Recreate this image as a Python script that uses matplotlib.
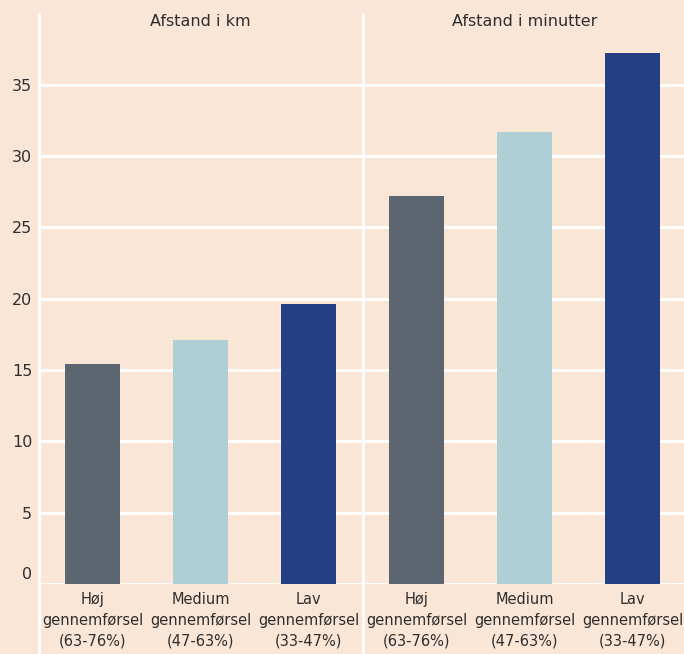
import matplotlib
matplotlib.use("Agg")
import matplotlib.pyplot as plt
from matplotlib import transforms
from matplotlib.lines import Line2D

panels = ["Afstand i km", "Afstand i minutter"]
categories = ["Høj\ngennemførsel\n(63-76%)", "Medium\ngennemførsel\n(47-63%)", "Lav\ngennemførsel\n(33-47%)"]
km_values = [15.4, 17.1, 19.6]
minutes_values = [27.2, 31.7, 37.2]
yticks = [0, 5, 10, 15, 20, 25, 30, 35]

bg = "#fae6d7"
bar_colors = ["#5b6670", "#aecfd6", "#253f85"]
text_color = "#2e2e2e"
plt.rcParams["font.family"] = ["Liberation Sans Narrow", "DejaVu Sans"]

W, H = 684, 654
fig = plt.figure(figsize=(W / 100, H / 100), dpi=100, facecolor=bg)

left_px, mid_px, right_px = 38.5, 362.5, 686.5
bottom_px, top_px = 584, 42
b = (H - bottom_px) / H
h = (bottom_px - top_px) / H

axes = []
for i, (title, vals) in enumerate(zip(panels, [km_values, minutes_values])):
    x0 = [left_px, mid_px][i]
    ax = fig.add_axes([x0 / W, b, (mid_px - left_px) / W, h])
    ax.set_facecolor(bg)
    ax.set_xlim(-0.5, 2.5)
    ax.set_ylim(0, 38)
    ax.set_yticks(yticks)
    for y in yticks:
        ax.axhline(y, color="white", lw=2, zorder=0)
    ax.bar(range(3), vals, width=0.51, color=bar_colors, zorder=2)
    ax.set_xticks(range(3))
    ax.set_xticklabels(categories, fontsize=10.5, color=text_color, linespacing=1.45)
    ax.tick_params(axis="x", length=0, pad=6)
    for s in ax.spines.values():
        s.set_visible(False)
    # panel title, placed at a fixed height in the figure
    ax.text(0.5, (H - 22) / H, title,
            transform=transforms.blended_transform_factory(ax.transAxes, fig.transFigure),
            ha="center", va="center", fontsize=11.5, color=text_color)
    axes.append(ax)

axes[0].tick_params(axis="y", length=0, labelsize=11.5, labelcolor=text_color, pad=4.5)
axes[1].tick_params(axis="y", length=0, labelleft=False)

fig.canvas.draw()
zero_label = axes[0].get_yticklabels()[0]
zero_label.set_transform(zero_label.get_transform() + transforms.ScaledTranslation(0, 11 / 100, fig.dpi_scale_trans))

# vertical separators through the whole panel area
for xp in (left_px, mid_px):
    fig.add_artist(Line2D([xp / W, xp / W], [0, (H - 14) / H], transform=fig.transFigure,
                          color="white", lw=2))

fig.savefig("out.png", dpi=100, facecolor=bg)
